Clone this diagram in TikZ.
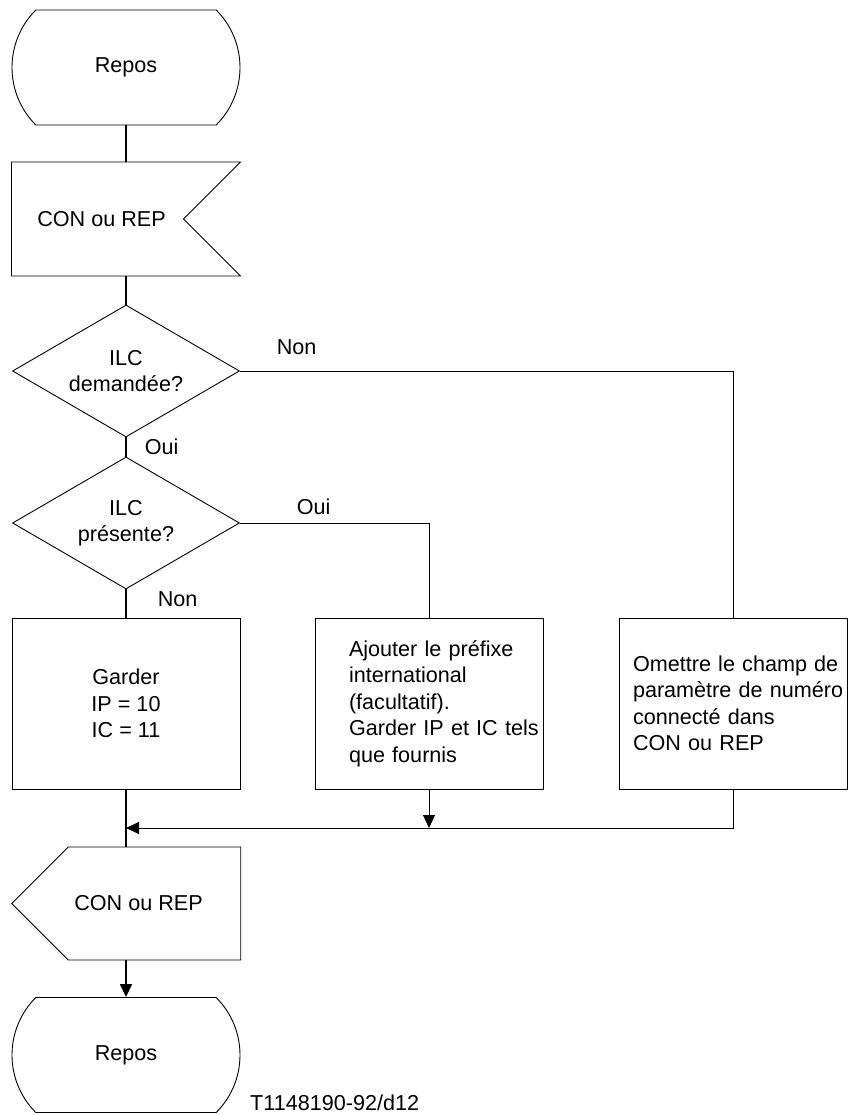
\documentclass[tikz,border=0pt]{standalone}
\usepackage{fontspec}
\setmainfont{Liberation Sans}
\usetikzlibrary{
  shapes.geometric,
  shapes.misc,
  shapes.symbols,
  arrows.meta
}
\definecolor{linecolor}{RGB}{0, 0, 0}
\definecolor{labelcolor}{RGB}{0, 0, 0}
\tikzset{
blocktext/.style={
  font=\fontsize{21.6pt}{26.5pt}\selectfont,
  text=labelcolor,
  align=center
},
stateblock/.style={
  draw=linecolor,
  rounded rectangle,
  rounded rectangle arc length=90,
  minimum width=228pt,
  minimum height=115pt,
  inner sep=0pt,
  line width=0.9pt,
  blocktext
},
inputblock/.style={
  draw=linecolor,
  signal,
  signal from=east,
  signal to=nowhere,
  signal pointer angle=90,
  minimum width=229pt,
  minimum height=114pt,
  inner sep=0pt,
  line width=0.9pt,
  blocktext
},
outputblock/.style={
  draw=linecolor,
  signal,
  signal to=west,
  signal from=nowhere,
  signal pointer angle=90,
  minimum width=229pt,
  minimum height=113pt,
  inner sep=0pt,
  line width=0.9pt,
  blocktext
},
decision/.style={
  draw=linecolor,
  diamond,
  shape aspect=1.72,
  minimum width=227pt,
  minimum height=132pt,
  inner sep=0pt,
  line width=0.9pt,
  blocktext
},
taskblock/.style={
  draw=linecolor,
  rectangle,
  minimum width=228pt,
  minimum height=171pt,
  inner sep=0pt,
  line width=0.9pt,
  blocktext
},
edgelabel/.style={
  inner sep=0pt,
  blocktext
},
connector/.style={
  draw=linecolor,
  line width=1.5pt
},
arrow/.style={
  connector,
  -{Triangle[length=13pt,width=12pt]}
}
}

\begin{document}
\begin{tikzpicture}[x=1pt, y=-1pt]
  \useasboundingbox (0,0) rectangle (850,1115);

  \node[stateblock] (repos1) at (126,67.5) {Repos};
  \node[inputblock] (conin) at (97.5,219) {\hspace*{8pt}CON ou REP};
  \node[decision] (demandee) at (126,371) {ILC\\demandée?};
  \node[decision] (presente) at (126,523) {ILC\\présente?};
  \node[taskblock] (garder) at (126,703.5) {Garder\\IP = 10\\IC = 11};
  \node[taskblock, text width=160pt, align=left] (ajouter) at (429,703.5)
    {\mbox{Ajouter le préfixe}\\international\\(facultatif).\\\mbox{Garder IP et IC tels}\\que fournis};
  \node[taskblock, text width=200pt, align=left] (omettre) at (733,703.5)
    {\mbox{Omettre le champ de}\\\mbox{paramètre de numéro}\\connecté dans\\CON ou REP};
  \node[outputblock] (conout) at (154.5,903.5) {CON ou REP\hspace*{32pt}};
  \node[stateblock] (repos2) at (126,1055) {Repos};
  \node[edgelabel, anchor=base west] (figid) at (250,1110) {T1148190-92/d12};

  \coordinate (merge) at (126,828);

  % connections
  \draw[connector] (repos1.south) -- (repos1.south |- conin.north);
  \draw[connector] (conin.south -| demandee.north) -- (demandee.north);
  \draw[connector] (demandee.south) -- node[edgelabel, right=18pt] {Oui} (presente.north);
  \draw[connector, line width=1pt] (demandee.east) -- node[edgelabel, pos=0.115, above=16pt] {Non} (demandee.east -| omettre.north) -- (omettre.north);
  \draw[connector, line width=1pt] (presente.east) -- node[edgelabel, pos=0.39, above=8pt] {Oui} (presente.east -| ajouter.north) -- (ajouter.north);
  \draw[connector] (presente.south) -- node[edgelabel, right=31pt, yshift=4pt] {Non} (garder.north);
  \draw[connector] (garder.south) -- (garder.south |- conout.north);
  \draw[arrow, line width=1pt] (ajouter.south) -- (ajouter.south |- merge);
  \draw[arrow, line width=1pt] (omettre.south) |- (merge);
  \draw[arrow] (conout.south -| repos2.north) -- (repos2.north);
\end{tikzpicture}
\end{document}
